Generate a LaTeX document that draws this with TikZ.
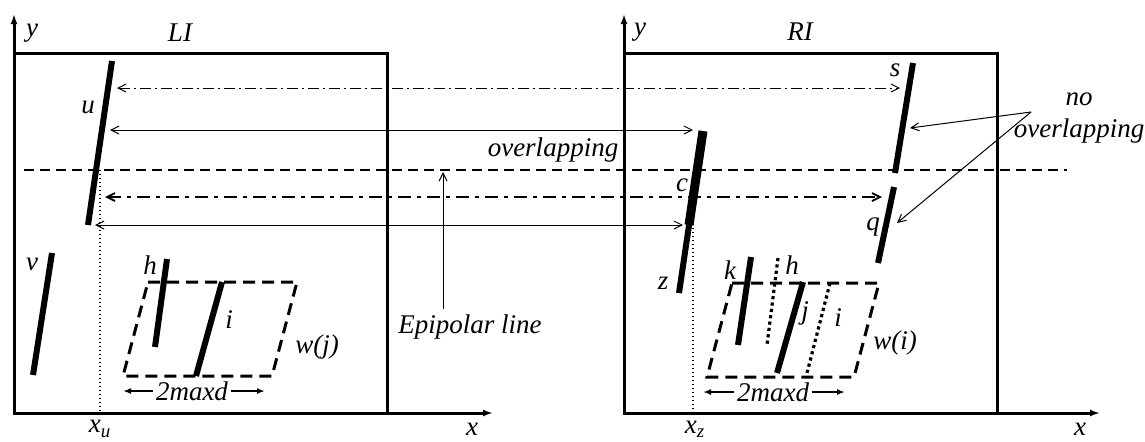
\documentclass[tikz,border=0pt]{standalone}
\usepackage{fontspec}
\setmainfont{Liberation Serif}
\usetikzlibrary{arrows.meta}

\begin{document}
\begin{tikzpicture}[
  x=0.5pt, y=-0.5pt,
  lbl/.style={font=\fontsize{13.5}{14}\selectfont\itshape, inner sep=0pt},
  frame/.style={line width=1.5pt},
  axis/.style={line width=1.5pt,-{Latex[length=5pt,width=3.5pt]}},
  seg/.style={line width=3pt},
  ghostseg/.style={line width=1.6pt,dash pattern=on 1.6pt off 1.6pt},
  window/.style={line width=1.5pt,dash pattern=on 6pt off 3.5pt},
  epiline/.style={line width=0.9pt,dash pattern=on 5pt off 3pt},
  link/.style={line width=0.5pt,{Straight Barb[length=4pt,width=4pt]}-{Straight Barb[length=4pt,width=4pt]}},
  thinlink/.style={link,dash pattern=on 5.5pt off 2pt on 1pt off 2pt},
  thicklink/.style={link,line width=0.9pt,dash pattern=on 6.5pt off 3pt on 2pt off 3pt},
  pointer/.style={line width=0.5pt,-{Straight Barb[length=4pt,width=4pt]}},
  span/.style={line width=0.8pt,-{Latex[length=4pt,width=3pt]}}
]
  \useasboundingbox (0,0) rectangle (1145,441);

  % left image
  \draw[axis] (14,127) -- (14,14);
  \draw[frame] (14,53) rectangle (387,413);
  \draw[axis] (387,413) -- (493,413);
  \node[lbl] (ly) at (32,33) {y};
  \node[lbl] (LI) at (180,33) {LI};
  \node[lbl] (lx) at (472,429) {x};

  % right image
  \draw[axis] (624,120) -- (624,14);
  \draw[frame] (624,53) rectangle (997,413);
  \draw[axis] (997,413) -- (1100,413);
  \node[lbl] (ry) at (640,32) {y};
  \node[lbl] (RI) at (800,32) {RI};
  \node[lbl] (rx) at (1080,429) {x};

  % epipolar line
  \draw[epiline] (24,170) -- (1067,170);
  \coordinate (epitip) at (443,172);
  \node[lbl] (epilbl) at (470,327) {Epipolar line};
  \draw[pointer] (443,309) -- (epitip);

  % segments, left
  \coordinate (u1) at (112,61);  \coordinate (u2) at (88,225);
  \coordinate (v1) at (52,253);  \coordinate (v2) at (33,375);
  \coordinate (lh1) at (167,259); \coordinate (lh2) at (155,347);
  \coordinate (li1) at (222,282); \coordinate (li2) at (196,376);
  \draw[seg] (u1) -- (u2);
  \draw[seg] (v1) -- (v2);
  \draw[seg] (lh1) -- (lh2);
  \draw[seg] (li1) -- (li2);
  \draw[window] (148,282) -- (297,282) -- (272,376) -- (123,376) -- cycle;
  \node[lbl] at (88,107) {u};
  \node[lbl] at (32,264) {v};
  \node[lbl] at (150,265) {h};
  \node[lbl] at (229,320) {i};
  \node[lbl] at (317,347) {w(j)};
  \draw[line width=0.6pt,dash pattern=on 0.6pt off 1.4pt] (100,170) -- (100,413);
  \node[lbl] at (100,429) {x\textsubscript{u}};
  \node[lbl] (lspan) at (192,391) {2maxd};
  \coordinate (lspanA) at (123,391); \coordinate (lspanB) at (265,391);
  \draw[span] ([xshift=-1.5pt]lspan.west) -- (lspanA);
  \draw[span] ([xshift=1.5pt]lspan.east) -- (lspanB);

  % segments, right
  \coordinate (s1) at (913,63);  \coordinate (s2) at (895,173);
  \coordinate (q1) at (894,187); \coordinate (q2) at (878,263);
  \coordinate (c1) at (703,131); \coordinate (c2) at (689,225);
  \coordinate (z1) at (692,205); \coordinate (z2) at (679,293);
  \coordinate (k1) at (751,257); \coordinate (k2) at (738,345);
  \coordinate (rh1) at (778,258); \coordinate (rh2) at (767,345);
  \coordinate (j1) at (803,282); \coordinate (j2) at (777,373);
  \coordinate (ri1) at (830,283); \coordinate (ri2) at (807,373);
  \draw[seg] (s1) -- (s2);
  \draw[seg] (q1) -- (q2);
  \draw[seg,line width=4.5pt] (c1) -- (c2);
  \draw[seg] (z1) -- (z2);
  \draw[seg] (k1) -- (k2);
  \draw[ghostseg] (rh1) -- (rh2);
  \draw[seg] (j1) -- (j2);
  \draw[ghostseg] (ri1) -- (ri2);
  \draw[window] (732,283) -- (879,283) -- (854,377) -- (707,377) -- cycle;
  \node[lbl] at (895,70) {s};
  \node[lbl] at (873,227) {q};
  \node[lbl] at (682,185) {c};
  \node[lbl] at (663,283) {z};
  \node[lbl] at (730,270) {k};
  \node[lbl] at (792,265) {h};
  \node[lbl] at (805,313) {j};
  \node[lbl] at (838,318) {i};
  \node[lbl] at (895,343) {w(i)};
  \draw[line width=0.6pt,dash pattern=on 0.6pt off 1.4pt] (693,220) -- (693,413);
  \node[lbl] at (695,429) {x\textsubscript{z}};
  \node[lbl] (rspan) at (773,392) {2maxd};
  \coordinate (rspanA) at (703,392); \coordinate (rspanB) at (845,392);
  \draw[span] ([xshift=-1.5pt]rspan.west) -- (rspanA);
  \draw[span] ([xshift=1.5pt]rspan.east) -- (rspanB);

  % correspondences
  \coordinate (a1) at (117,88);  \coordinate (b1) at (900,88);
  \coordinate (a2) at (110,130); \coordinate (b2) at (693,130);
  \coordinate (a3) at (105,197); \coordinate (b3) at (882,197);
  \coordinate (a4) at (95,225);  \coordinate (b4) at (683,225);
  \draw[thinlink] (a1) -- (b1);
  \draw[link] (a2) -- (b2);
  \draw[thicklink] (a3) -- (b3);
  \draw[link] (a4) -- (b4);
  \node[lbl] (ovl) at (553,150) {overlapping};

  % no overlapping
  \node[lbl,align=center] (noovl) at (1079,118) {no\\[2pt]overlapping};
  \coordinate (fork) at (1031,112);
  \draw[pointer] (fork) -- (910,128);
  \draw[pointer] (fork) -- (897,223);
\end{tikzpicture}
\end{document}
